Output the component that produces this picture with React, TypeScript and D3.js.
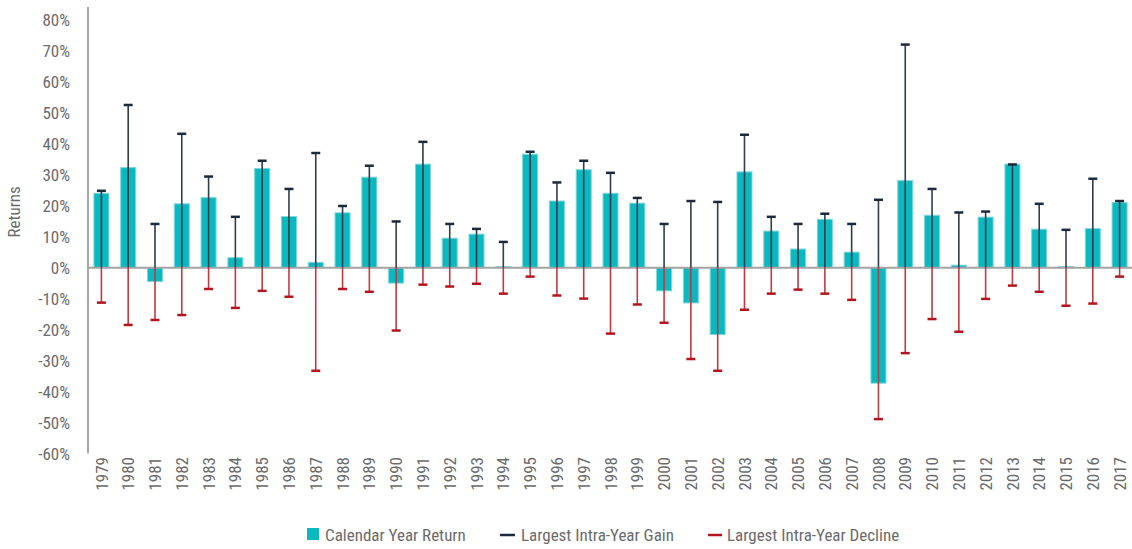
import React, { useRef, useEffect } from 'react';
import * as d3 from 'd3';

const years: string[] = [
  '1979', '1980', '1981', '1982', '1983', '1984', '1985', '1986', '1987', '1988',
  '1989', '1990', '1991', '1992', '1993', '1994', '1995', '1996', '1997', '1998',
  '1999', '2000', '2001', '2002', '2003', '2004', '2005', '2006', '2007', '2008',
  '2009', '2010', '2011', '2012', '2013', '2014', '2015', '2016', '2017',
];

// calendar year return (%)
const yearReturn: number[] = [
  24.0, 32.3, -4.5, 20.6, 22.6, 3.2, 32.0, 16.5, 1.7, 17.7,
  29.2, -5.0, 33.4, 9.5, 10.8, 0.3, 36.6, 21.5, 31.6, 24.0,
  20.8, -7.5, -11.4, -21.6, 30.9, 11.8, 6.0, 15.6, 5.0, -37.3,
  28.1, 16.9, 0.8, 16.3, 33.4, 12.4, 0.3, 12.6, 21.0,
];

// largest intra-year gain (%)
const intraGain: number[] = [
  24.8, 52.5, 14.1, 43.2, 29.4, 16.4, 34.5, 25.4, 37.0, 19.9,
  32.9, 14.9, 40.6, 14.1, 12.5, 8.3, 37.4, 27.5, 34.5, 30.6,
  22.5, 14.1, 21.5, 21.2, 42.9, 16.4, 14.1, 17.4, 14.1, 21.9,
  72.0, 25.4, 17.8, 18.1, 33.3, 20.6, 12.2, 28.7, 21.5,
];

// largest intra-year decline (%)
const intraDecline: number[] = [
  -11.3, -18.5, -16.9, -15.3, -6.9, -13.0, -7.5, -9.4, -33.3, -6.9,
  -7.8, -20.3, -5.5, -6.1, -5.2, -8.4, -2.9, -9.0, -10.0, -21.3,
  -11.9, -17.8, -29.5, -33.3, -13.6, -8.4, -7.1, -8.4, -10.4, -48.9,
  -27.6, -16.6, -20.7, -10.1, -5.8, -7.8, -12.3, -11.6, -2.9,
];

const yTicks: number[] = [-60, -50, -40, -30, -20, -10, 0, 10, 20, 30, 40, 50, 60, 70, 80];

const legendLabels: string[] = ['Calendar Year Return', 'Largest Intra-Year Gain', 'Largest Intra-Year Decline'];

const WIDTH = 1132;
const HEIGHT = 549;
const FONT = '"Liberation Sans Narrow", "Roboto Condensed", "DejaVu Sans Condensed", Roboto, sans-serif';

const BAR = '#0ab8c0';
const GAIN = '#1c2a3a';
const LOSS = '#b3141d';

const App: React.FC = () => {
  const svgRef = useRef<SVGSVGElement>(null);

  useEffect(() => {
    if (!svgRef.current) return;
    const svg = d3.select(svgRef.current);
    svg.selectAll('*').remove();

    const x = d3.scaleBand<string>().domain(years).range([88, 1133]).paddingInner(0.44).paddingOuter(0.22);
    const y = d3.scaleLinear().domain([-60, 80]).range([453.5, 19.8]);
    const cx = (i: number) => (x(years[i]) as number) + x.bandwidth() / 2;

    // y axis line
    svg.append('line')
      .attr('x1', 88).attr('x2', 88)
      .attr('y1', 7).attr('y2', y(-60))
      .attr('stroke', '#8a8a8a').attr('stroke-width', 1.5);

    // y tick labels
    svg.append('g')
      .selectAll('text')
      .data(yTicks)
      .enter()
      .append('text')
      .attr('x', 70)
      .attr('y', (d) => y(d))
      .attr('dy', '0.36em')
      .attr('text-anchor', 'end')
      .style('font-family', FONT)
      .style('font-size', '17px')
      .style('fill', '#6b6b6b')
      .text((d) => `${d}%`);

    // axis title
    svg.append('text')
      .attr('transform', `translate(20,${y(18)}) rotate(-90)`)
      .attr('text-anchor', 'middle')
      .style('font-family', FONT)
      .style('font-size', '17px')
      .style('fill', '#6b6b6b')
      .text('Returns');

    // bars
    svg.append('g')
      .selectAll('rect')
      .data(yearReturn)
      .enter()
      .append('rect')
      .attr('x', (_, i) => x(years[i]) as number)
      .attr('width', x.bandwidth())
      .attr('y', (d) => y(Math.max(0, d)))
      .attr('height', (d) => Math.abs(y(d) - y(0)))
      .attr('fill', BAR)
      .attr('stroke', '#7fd6da')
      .attr('stroke-width', 1);

    // zero line
    svg.append('line')
      .attr('x1', 88).attr('x2', WIDTH)
      .attr('y1', y(0)).attr('y2', y(0))
      .attr('stroke', '#a3a3a3').attr('stroke-width', 2);

    // whiskers
    const drawWhisker = (vals: number[], color: string, lineColor: string) => {
      const g = svg.append('g');
      g.selectAll('line.stem')
        .data(vals)
        .enter()
        .append('line')
        .attr('class', 'stem')
        .attr('x1', (_, i) => cx(i)).attr('x2', (_, i) => cx(i))
        .attr('y1', y(0)).attr('y2', (d) => y(d))
        .attr('stroke', lineColor).attr('stroke-width', 1.6);
      g.selectAll('line.cap')
        .data(vals)
        .enter()
        .append('line')
        .attr('class', 'cap')
        .attr('x1', (_, i) => cx(i) - 4.5).attr('x2', (_, i) => cx(i) + 4.5)
        .attr('y1', (d) => y(d)).attr('y2', (d) => y(d))
        .attr('stroke', color).attr('stroke-width', 2.5);
    };
    drawWhisker(intraGain, GAIN, '#2f3d4c');
    drawWhisker(intraDecline, LOSS, '#c03a42');

    // year labels
    svg.append('g')
      .selectAll('text')
      .data(years)
      .enter()
      .append('text')
      .attr('transform', (d) => `translate(${(x(d) as number) + x.bandwidth() / 2},457) rotate(-90)`)
      .attr('dy', '0.36em')
      .attr('text-anchor', 'end')
      .style('font-family', FONT)
      .style('font-size', '17px')
      .style('fill', '#6b6b6b')
      .text((d) => d);

    // legend
    const legend = svg.append('g');
    legend.append('rect')
      .attr('x', 307).attr('y', 528).attr('width', 12).attr('height', 12)
      .attr('fill', BAR);
    legend.append('line')
      .attr('x1', 500).attr('x2', 515).attr('y1', 535).attr('y2', 535)
      .attr('stroke', GAIN).attr('stroke-width', 2.5);
    legend.append('line')
      .attr('x1', 708).attr('x2', 722).attr('y1', 535).attr('y2', 535)
      .attr('stroke', LOSS).attr('stroke-width', 2.5);
    const lx = [325, 521, 727];
    legendLabels.forEach((t, i) => {
      legend.append('text')
        .attr('x', lx[i]).attr('y', 535)
        .attr('dy', '0.36em')
        .style('font-family', FONT)
        .style('font-size', '17px')
        .style('fill', '#6b6b6b')
        .text(t);
    });
  }, []);

  return (
    <div style={{ position: 'absolute', left: 0, top: 0 }}>
      <svg ref={svgRef} width={WIDTH} height={HEIGHT} style={{ display: 'block', background: '#fff' }} />
    </div>
  );
};

export default App;
